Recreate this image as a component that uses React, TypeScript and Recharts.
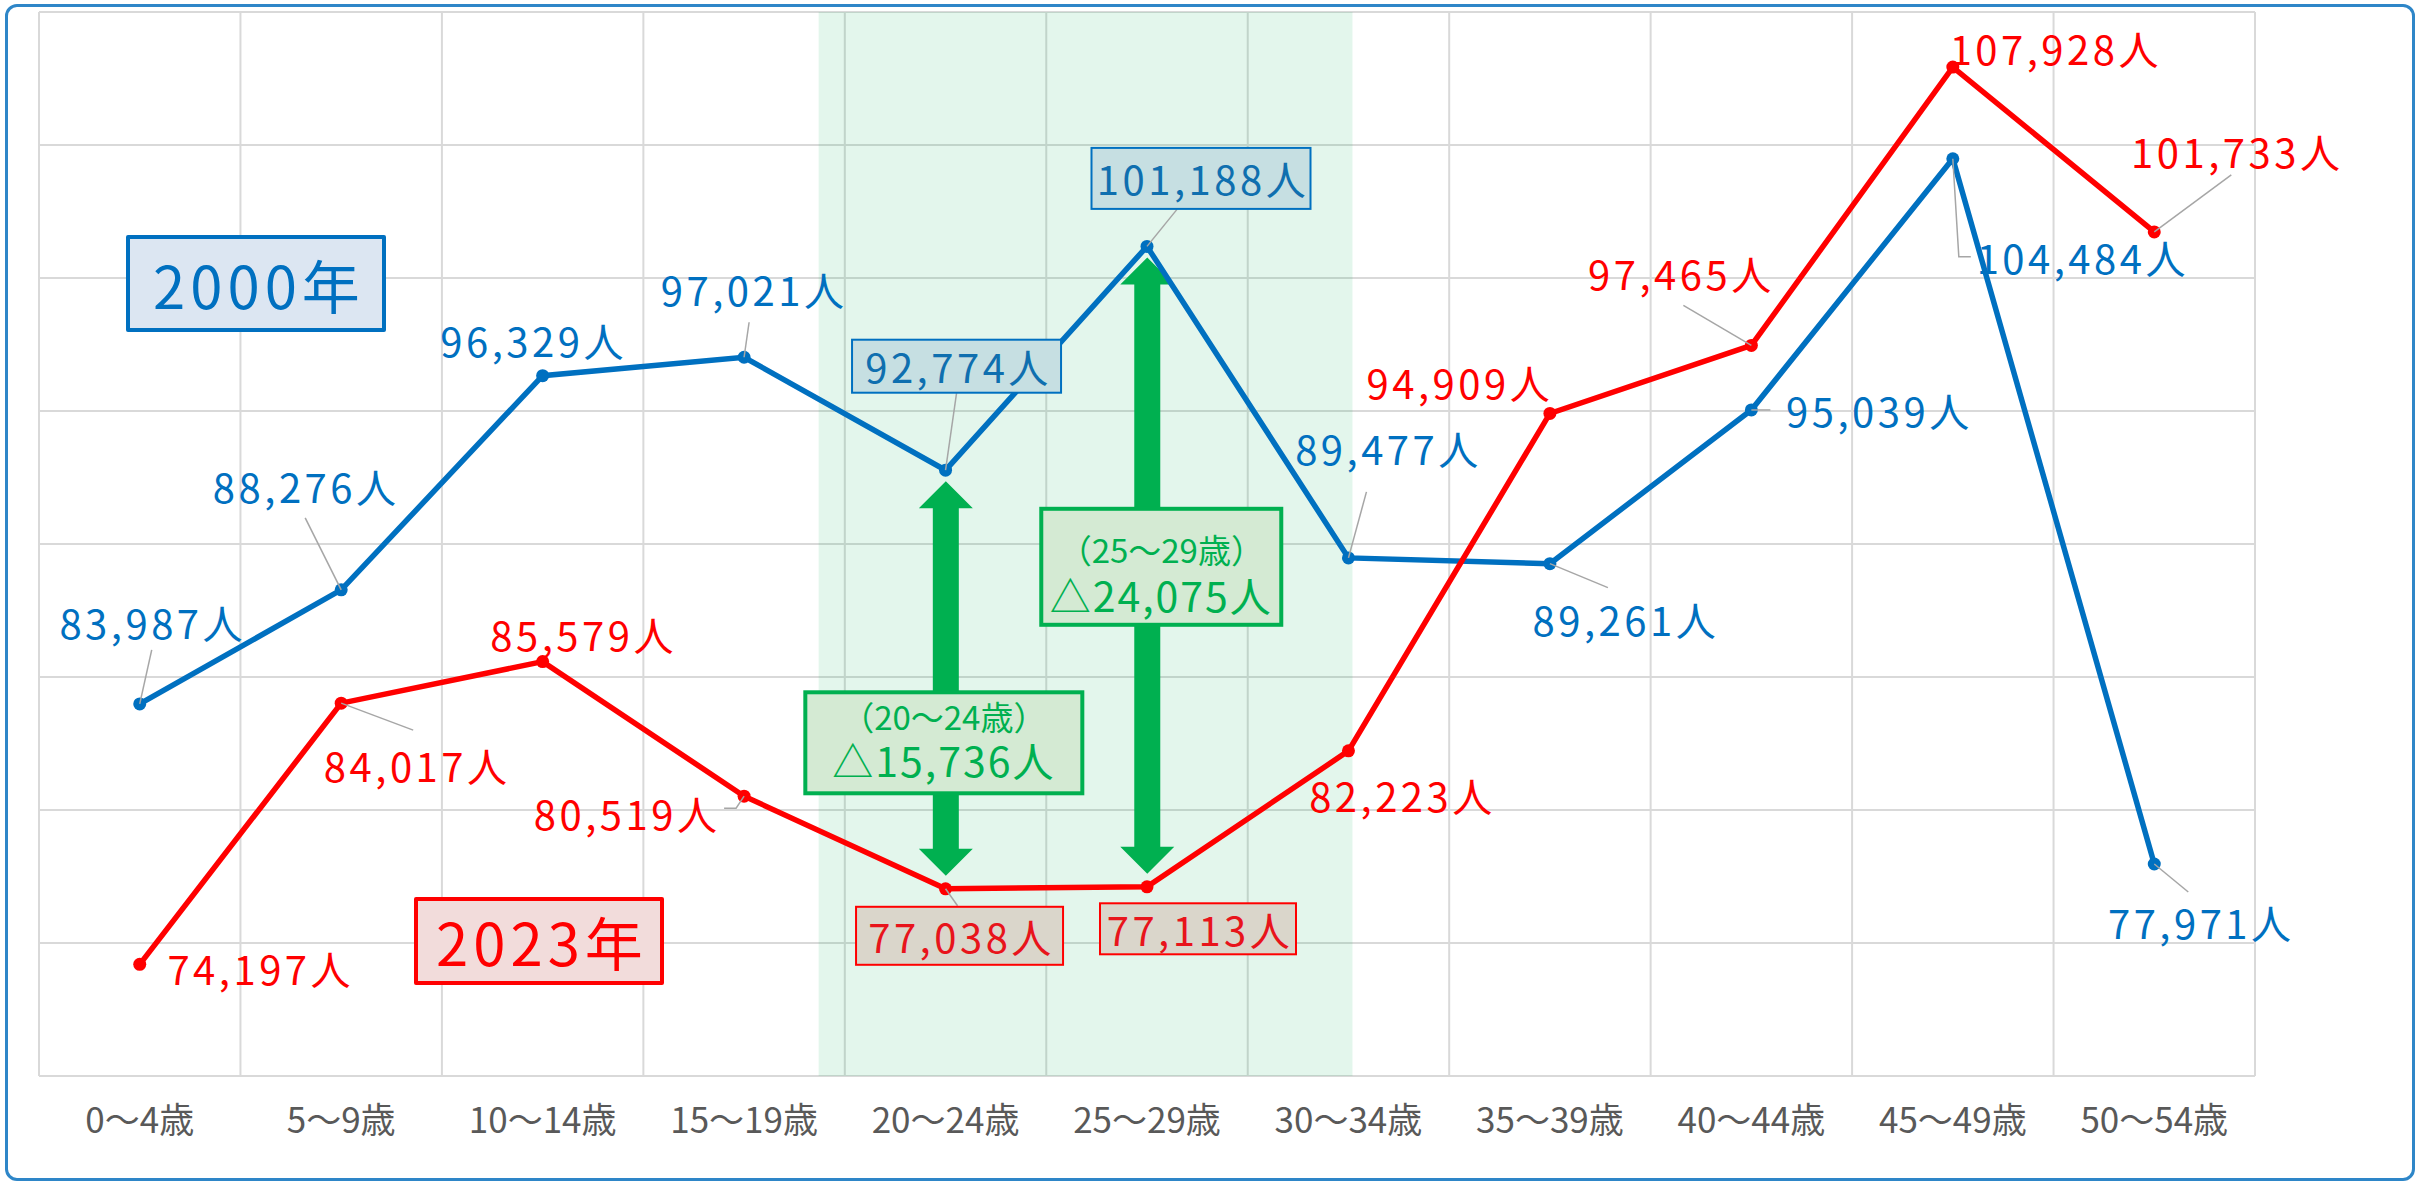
import React from "react";
import {
  ComposedChart,
  Line,
  Bar,
  XAxis,
  YAxis,
  CartesianGrid,
  ReferenceArea,
  LabelList,
} from "recharts";

const ages = [
  "0～4歳", "5～9歳", "10～14歳", "15～19歳", "20～24歳", "25～29歳",
  "30～34歳", "35～39歳", "40～44歳", "45～49歳", "50～54歳",
];
const pop2000 = [83987, 88276, 96329, 97021, 92774, 101188, 89477, 89261, 95039, 104484, 77971];
const pop2023 = [74197, 84017, 85579, 80519, 77038, 77113, 82223, 94909, 97465, 107928, 101733];
const gapAges = ["20～24歳", "25～29歳"];
const yTicks = [70000, 75000, 80000, 85000, 90000, 95000, 100000, 105000, 110000];

const BLUE = "#0070C0";
const RED = "#FF0000";
const GREEN = "#00B050";
const FONT = "'Noto Sans CJK JP', 'Noto Sans', sans-serif";

const data = ages.map((age, i) => ({
  idx: i,
  age,
  y2000: pop2000[i],
  y2023: pop2023[i],
  gap: gapAges.includes(age) ? [pop2023[i], pop2000[i]] : null,
}));

const fmt = (v: number) => v.toLocaleString("en-US") + "人";

// label placement relative to each point (px)
type LabelPos = { dx: number; dy: number; lead?: number[][]; box?: [number, number] };

const blueLabels: LabelPos[] = [
  { dx: 11, dy: -82, lead: [[12, -54]] },
  { dx: -37, dy: -104, lead: [[-36, -72]] },
  { dx: -11, dy: -36 },
  { dx: 8, dy: -68, lead: [[5, -35]] },
  { dx: 11, dy: -104, lead: [[11, -77]], box: [209, 53] },
  { dx: 54, dy: -68, lead: [[30, -37]], box: [219, 61] },
  { dx: 38, dy: -110, lead: [[18, -66]] },
  { dx: 74, dy: 55, lead: [[58, 24]] },
  { dx: 126, dy: 0, lead: [[19, 0]] },
  { dx: 128, dy: 98, lead: [[6, 98], [18, 98]] },
  { dx: 45, dy: 58, lead: [[34, 28]] },
];

const redLabels: LabelPos[] = [
  { dx: 119, dy: 4 },
  { dx: 74, dy: 62, lead: [[72, 27]] },
  { dx: 39, dy: -28 },
  { dx: -119, dy: 17, lead: [[-8, 12], [-20, 12]] },
  { dx: 14, dy: 47, lead: [[12, 17]], box: [207, 58] },
  { dx: 51, dy: 42, box: [196, 51] },
  { dx: 52, dy: 44 },
  { dx: -92, dy: -31 },
  { dx: -72, dy: -72, lead: [[-68, -40]] },
  { dx: 101, dy: -19 },
  { dx: 81, dy: -81, lead: [[77, -57]] },
];

const makeLabel =
  (pos: LabelPos[], values: number[], color: string, boxFill: string, boxText: string) =>
  (props: any) => {
    const value = props.value;
    const x = props.x ?? props.viewBox?.x;
    const y = props.y ?? props.viewBox?.y;
    const index = typeof props.index === "number" ? props.index : values.indexOf(value);
    const p = pos[index];
    if (!p || x == null || y == null) return null;
    const tx = x + p.dx;
    const ty = y + p.dy;
    return (
      <g>
        {p.lead && (
          <polyline
            points={[[0, 0], ...p.lead].map(([a, b]) => `${x + a},${y + b}`).join(" ")}
            fill="none"
            stroke="#A6A6A6"
            strokeWidth={1.5}
          />
        )}
        {p.box && (
          <rect
            x={tx - p.box[0] / 2}
            y={ty - p.box[1] / 2}
            width={p.box[0]}
            height={p.box[1]}
            fill={boxFill}
            stroke={color}
            strokeWidth={2}
          />
        )}
        <text
          x={tx + 2}
          y={ty}
          textAnchor="middle"
          dominantBaseline="central"
          fill={p.box ? boxText : color}
          fontSize={40}
          fontFamily={FONT}
          letterSpacing={3.5}
        >
          {fmt(value)}
        </text>
      </g>
    );
  };

// annotation boxes on the gap arrows
const gapBoxes = [
  { dx: -2, dy: -146, w: 277, h: 101, t1: 24, t2: 67 },
  { dx: 14, dy: -320, w: 240, h: 116, t1: 40, t2: 85 },
];

const GapArrow = (props: any) => {
  const { x, y, width, height, payload } = props;
  if (!payload || !payload.gap || height == null || !isFinite(height)) return null;
  const k = gapAges.indexOf(payload.age);
  const cx = x + width / 2;
  const top = y + 11;
  const bot = y + height - 13;
  const sw = 13;
  const hw = 27;
  const hl = 27;
  const d = `M${cx},${top} L${cx + hw},${top + hl} L${cx + sw},${top + hl} L${cx + sw},${bot - hl} L${cx + hw},${bot - hl} L${cx},${bot} L${cx - hw},${bot - hl} L${cx - sw},${bot - hl} L${cx - sw},${top + hl} L${cx - hw},${top + hl} Z`;
  const b = gapBoxes[k];
  const bx = cx + b.dx - b.w / 2;
  const by = y + height + b.dy - b.h / 2;
  const line1 = `（${payload.age}）`;
  const line2 = `△${(payload.y2000 - payload.y2023).toLocaleString("en-US")}人`;
  return (
    <g>
      <path d={d} fill={GREEN} />
      <rect x={bx} y={by} width={b.w} height={b.h} fill="#D4EAD3" stroke={GREEN} strokeWidth={4} />
      <text x={bx + b.w / 2} y={by + b.t1} textAnchor="middle" dominantBaseline="central" fill={GREEN} fontSize={33} fontFamily={FONT}>
        {line1}
      </text>
      <text x={bx + b.w / 2} y={by + b.t2} textAnchor="middle" dominantBaseline="central" fill={GREEN} fontSize={41} fontFamily={FONT} letterSpacing={2}>
        {line2}
      </text>
    </g>
  );
};

const yearBox = (text: string, color: string, bg: string, left: number, top: number, w: number, h: number) => (
  <div
    style={{
      position: "absolute",
      left,
      top,
      width: w,
      height: h,
      boxSizing: "border-box",
      border: `4px solid ${color}`,
      borderRadius: 2,
      background: bg,
      color,
      fontFamily: FONT,
      fontSize: 58,
      letterSpacing: 5,
      display: "flex",
      alignItems: "center",
      justifyContent: "center",
      paddingLeft: 6,
    }}
  >
    {text}
  </div>
);

export default function App() {
  const bounds = Array.from({ length: ages.length + 1 }, (_, i) => i - 0.5);
  return (
    <div style={{ position: "absolute", left: 0, top: 0, width: 2425, height: 1185, background: "#fff" }}>
      <div
        style={{
          position: "absolute",
          left: 5,
          top: 4,
          width: 2410,
          height: 1177,
          boxSizing: "border-box",
          border: "3px solid #2E86C8",
          borderRadius: 12,
        }}
      />
      <ComposedChart
        width={2425}
        height={1185}
        data={data}
        margin={{ top: 12, right: 170, left: 39, bottom: 49 }}
        style={{ position: "absolute", left: 0, top: 0 }}
      >
        <CartesianGrid
          stroke="#D9D9D9"
          strokeWidth={2}
          verticalCoordinatesGenerator={({ offset }: any) =>
            bounds.map((_, i) => offset.left + (i * offset.width) / ages.length)
          }
          horizontalCoordinatesGenerator={({ offset }: any) =>
            yTicks.map((_, i) => offset.top + (i * offset.height) / (yTicks.length - 1))
          }
        />
        <XAxis
          xAxisId="g"
          dataKey="idx"
          type="number"
          domain={[-0.5, ages.length - 0.5]}
          ticks={bounds}
          height={0}
          axisLine={false}
          tickLine={{ stroke: "#D9D9D9", strokeWidth: 2 }}
          tickSize={7}
          tickFormatter={() => ""}
        />
        <XAxis
          dataKey="idx"
          type="number"
          domain={[-0.5, ages.length - 0.5]}
          ticks={ages.map((_, i) => i)}
          interval={0}
          height={60}
          axisLine={false}
          tickLine={false}
          tickSize={6}
          tickMargin={26}
          tickFormatter={(i: number) => ages[i]}
          tick={{ fontSize: 35, fill: "#595959", fontFamily: FONT }}
        />
        <YAxis hide type="number" domain={[70000, 110000]} ticks={yTicks} />
        <ReferenceArea x1={3.37} x2={6.02} y1={70000} y2={110000} fill={GREEN} fillOpacity={0.11} stroke="none" />
        <Bar dataKey="gap" barSize={54} shape={<GapArrow />} isAnimationActive={false} />
        <Line
          dataKey="y2000"
          stroke={BLUE}
          strokeWidth={5.5}
          dot={{ r: 6.5, fill: BLUE, stroke: BLUE, strokeWidth: 0 }}
          activeDot={false}
          isAnimationActive={false}
        >
          <LabelList dataKey="y2000" content={makeLabel(blueLabels, pop2000, BLUE, "#C6DFE2", "#0F6FAF")} />
        </Line>
        <Line
          dataKey="y2023"
          stroke={RED}
          strokeWidth={5.5}
          dot={{ r: 6.5, fill: RED, stroke: RED, strokeWidth: 0 }}
          activeDot={false}
          isAnimationActive={false}
        >
          <LabelList dataKey="y2023" content={makeLabel(redLabels, pop2023, RED, "#DAD6CB", "#E8141B")} />
        </Line>
      </ComposedChart>
      {yearBox("2000年", BLUE, "#DCE6F2", 126, 235, 260, 97)}
      {yearBox("2023年", RED, "#F2DCDB", 414, 897, 250, 88)}
    </div>
  );
}
